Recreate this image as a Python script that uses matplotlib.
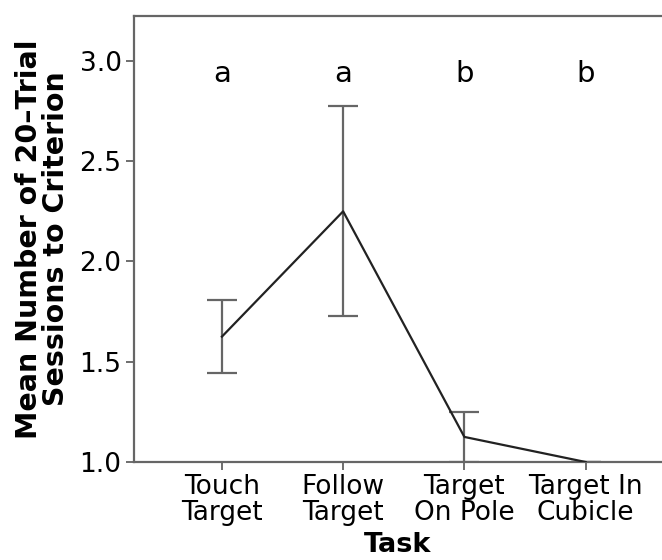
import matplotlib
matplotlib.use("Agg")
import matplotlib.pyplot as plt

tasks = ["Touch\nTarget", "Follow\nTarget", "Target\nOn Pole", "Target In\nCubicle"]
means = [1.625, 2.25, 1.125, 1.0]
err_low = [1.445, 1.727, 1.0, 1.0]
err_high = [1.81, 2.777, 1.25, 1.0]
letters = ["a", "a", "b", "b"]
yticks = [1.0, 1.5, 2.0, 2.5, 3.0]
ytick_labels = ["1.0", "1.5", "2.0", "2.5", "3.0"]

plt.rcParams['font.family'] = ['DejaVu Sans']

fig = plt.figure(figsize=(6.62, 5.6), dpi=100)
ax = fig.add_axes([134/662, 1-462/560, 1-134/662, (462-16)/560])

x = list(range(len(tasks)))
yerr = [[m - l for m, l in zip(means, err_low)], [h - m for m, h in zip(means, err_high)]]
ax.errorbar(x, means, yerr=yerr, fmt='none', ecolor='#666666', elinewidth=1.6,
            capsize=11, capthick=1.6, zorder=2)
ax.plot(x, means, color='#222222', lw=1.6, zorder=3)

for xi, t in zip(x, letters):
    ax.text(xi, 2.895, t, ha='center', va='baseline', fontsize=21, color='black')

ax.set_xlim(-0.725, 3.63)
ax.set_ylim(1.0, 3.224)
ax.set_xticks(x)
ax.set_xticklabels(tasks, fontsize=19, linespacing=1.0)
ax.set_yticks(yticks)
ax.set_yticklabels(ytick_labels, fontsize=19)
ax.tick_params(direction='out', length=6, width=1.2, color='#555555', pad=3)

for s in ['left', 'top', 'bottom']:
    ax.spines[s].set_color('#666666')
    ax.spines[s].set_linewidth(1.6)
ax.spines['right'].set_visible(False)

ax.set_xlabel("Task", fontsize=19.5, fontweight='bold')
ax.xaxis.set_label_coords(0.5, -0.156)
ax.set_ylabel("Mean Number of 20\u2013Trial\nSessions to Criterion", fontsize=20.5,
              fontweight='bold', linespacing=0.95)
ax.yaxis.set_label_coords(-0.121, 0.5)

fig.savefig("out.png", dpi=100)
